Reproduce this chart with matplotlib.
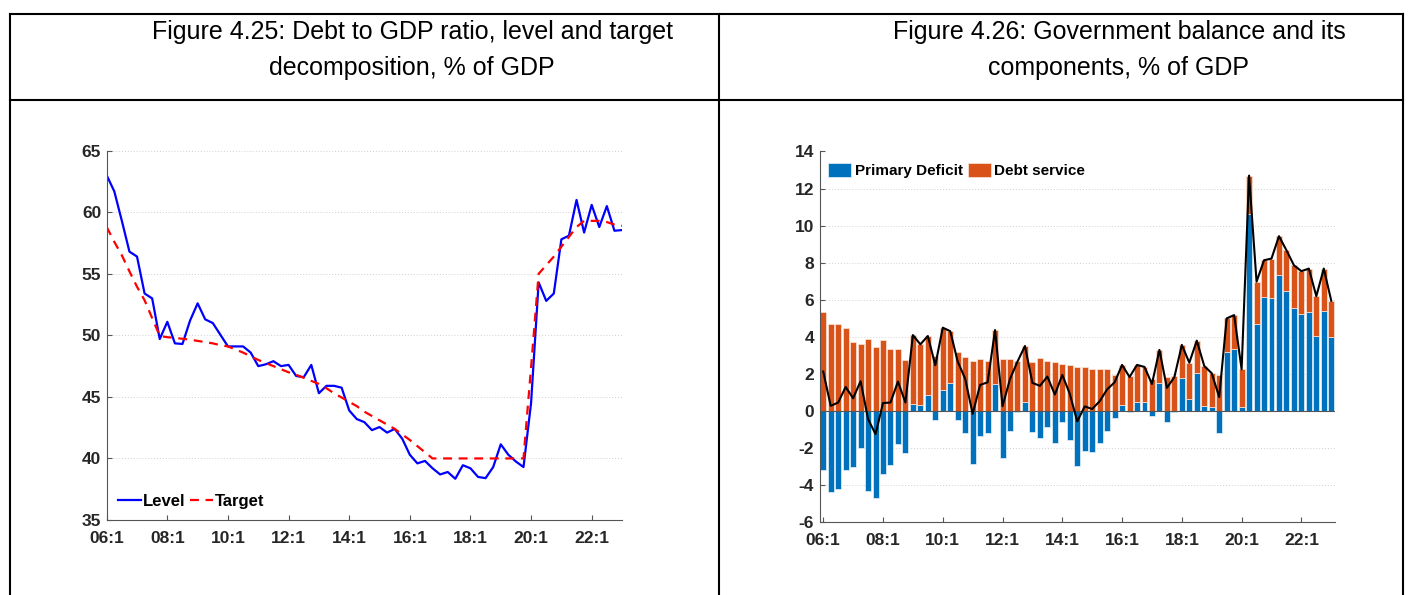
import matplotlib.pyplot as plt
from matplotlib.lines import Line2D

# quarters 2006Q1 .. 2023Q1
quarters = list(range(69))
tick_pos = [0, 8, 16, 24, 32, 40, 48, 56, 64]
tick_labels = ["06:1", "08:1", "10:1", "12:1", "14:1", "16:1", "18:1", "20:1", "22:1"]

# Figure 4.25
level = [63.0, 61.7, 59.3, 56.8, 56.4, 53.4, 53.0, 49.7, 51.1, 49.35,
         49.3, 51.2, 52.6, 51.3, 51.0, 50.05, 49.1, 49.1, 49.1, 48.6,
         47.5, 47.65, 47.9, 47.5, 47.6, 46.7, 46.6, 47.6, 45.3, 45.9,
         45.9, 45.75, 43.9, 43.2, 42.95, 42.3, 42.55, 42.1, 42.4, 41.6,
         40.3, 39.6, 39.8, 39.2, 38.7, 38.9, 38.35, 39.45, 39.2, 38.5,
         38.4, 39.3, 41.15, 40.3, 39.75, 39.3, 44.5, 54.3, 52.8, 53.4,
         57.8, 58.1, 61.0, 58.35, 60.6, 58.8, 60.5, 58.5, 58.55]
target = [58.8, 57.6, 56.5, 55.2, 53.95, 52.85, 51.4, 49.95, 49.85, 49.8,
          49.72, 49.65, 49.55, 49.45, 49.35, 49.2, 49.1, 48.85, 48.6, 48.3,
          48.0, 47.75, 47.5, 47.25, 47.0, 46.8, 46.55, 46.3, 46.05, 45.7,
          45.3, 44.95, 44.6, 44.25, 43.8, 43.45, 43.1, 42.75, 42.4, 41.95,
          41.5, 41.0, 40.5, 40.0, 40.0, 40.0, 40.0, 40.0, 40.0, 40.0,
          40.0, 40.0, 40.0, 40.0, 40.0, 40.0, 47.4, 55.0, 55.7, 56.4,
          57.2, 58.0, 58.8, 59.3, 59.3, 59.3, 59.2, 59.0, 58.9]

# Figure 4.26
primary_deficit = [-3.18, -4.40, -4.22, -3.18, -3.05, -2.03, -4.34, -4.72, -3.39, -2.91,
                   -1.78, -2.28, 0.39, 0.32, 0.84, -0.50, 1.13, 1.51, -0.52, -1.20,
                   -2.85, -1.38, -1.17, 1.47, -2.55, -1.08, -0.05, 0.48, -1.13, -1.49,
                   -0.86, -1.76, -0.61, -1.56, -2.96, -2.15, -2.23, -1.76, -1.08, -0.41,
                   0.29, -0.07, 0.48, 0.48, -0.30, 1.49, -0.61, -0.07, 1.76, 0.63,
                   2.03, 0.25, 0.20, -1.20, 3.16, 3.34, 0.20, 10.65, 4.69, 6.16,
                   6.07, 7.33, 6.46, 5.57, 5.21, 5.35, 4.04, 5.39, 3.97]
debt_service = [5.31, 4.67, 4.67, 4.47, 3.73, 3.63, 3.90, 3.46, 3.81, 3.36,
                3.36, 2.73, 3.70, 3.27, 3.20, 2.96, 3.36, 2.79, 3.18, 2.93,
                2.69, 2.78, 2.71, 2.89, 2.80, 2.80, 2.71, 3.02, 2.64, 2.84,
                2.71, 2.64, 2.55, 2.48, 2.39, 2.39, 2.28, 2.28, 2.24, 1.95,
                2.19, 1.90, 2.00, 1.89, 1.71, 1.80, 1.85, 1.89, 1.80, 1.97,
                1.76, 2.17, 1.83, 1.94, 1.83, 1.83, 2.04, 2.05, 2.28, 1.97,
                2.15, 2.10, 2.21, 2.29, 2.33, 2.33, 2.15, 2.29, 1.97]
balance = [2.12, 0.27, 0.45, 1.29, 0.68, 1.60, -0.44, -1.26, 0.42, 0.45,
           1.58, 0.45, 4.09, 3.59, 4.04, 2.46, 4.49, 4.30, 2.66, 1.73,
           -0.16, 1.40, 1.54, 4.36, 0.25, 1.72, 2.66, 3.50, 1.51, 1.35,
           1.85, 0.88, 1.94, 0.92, -0.57, 0.24, 0.10, 0.52, 1.16, 1.54,
           2.48, 1.83, 2.48, 2.37, 1.45, 3.29, 1.24, 1.82, 3.56, 2.60,
           3.79, 2.42, 2.03, 0.74, 4.99, 5.17, 2.24, 12.70, 6.97, 8.13,
           8.22, 9.43, 8.67, 7.86, 7.54, 7.68, 6.19, 7.68, 5.94]

W, H = 1413, 595
plt.rcParams['font.family'] = ['Liberation Sans', 'DejaVu Sans']
plt.rcParams['axes.unicode_minus'] = False
fig = plt.figure(figsize=(W / 100, H / 100), dpi=100)


def box(x0, y0, x1, y1):
    # pixel box (y from top) -> figure fraction rect
    return [x0 / W, 1 - y1 / H, (x1 - x0) / W, (y1 - y0) / H]


def hline(y, x0, x1):
    fig.add_artist(Line2D([x0 / W, x1 / W], [1 - y / H, 1 - y / H], color="black", lw=1.5))


def vline(x, y0, y1):
    fig.add_artist(Line2D([x / W, x / W], [1 - y0 / H, 1 - y1 / H], color="black", lw=1.5))


# table borders
hline(14, 10, 1403)
hline(100, 10, 1403)
vline(10, 14, 595)
vline(719, 14, 595)
vline(1403, 14, 595)

title_size = 18
fig.text(412 / W, 1 - 32 / H, "Figure 4.25: Debt to GDP ratio, level and target",
         ha="center", va="center", fontsize=title_size)
fig.text(412 / W, 1 - 68 / H, "decomposition, % of GDP",
         ha="center", va="center", fontsize=title_size)
fig.text(1119 / W, 1 - 32 / H, "Figure 4.26: Government balance and its",
         ha="center", va="center", fontsize=title_size)
fig.text(1119 / W, 1 - 68 / H, "components, % of GDP",
         ha="center", va="center", fontsize=title_size)

tick_color = "#262626"


def style_axes(ax):
    for s in ["top", "right"]:
        ax.spines[s].set_visible(False)
    for s in ["left", "bottom"]:
        ax.spines[s].set_color("#555555")
        ax.spines[s].set_linewidth(0.8)
    ax.tick_params(direction="in", length=3.5, width=0.8, colors="#555555",
                   labelcolor=tick_color, labelsize=12.5)
    ax.tick_params(axis="x", pad=8)
    ax.tick_params(axis="y", pad=4)
    ax.set_xticks(tick_pos)
    ax.set_xticklabels(tick_labels)
    for lab in ax.get_xticklabels() + ax.get_yticklabels():
        lab.set_fontweight("bold")
    ax.yaxis.grid(True, linestyle=(0, (1, 2)), color="#cfcfcf", lw=0.7)
    ax.set_axisbelow(True)


# left chart
ax1 = fig.add_axes(box(106.7, 150.7, 622, 520))
ax1.plot(quarters, level, color="#0000ff", lw=1.6, label="Level")
ax1.plot(quarters, target, color="#ff0000", lw=1.6, ls=(0, (4, 3)), label="Target")
ax1.set_xlim(0, 68)
ax1.set_ylim(35, 65)
ax1.set_yticks([35, 40, 45, 50, 55, 60, 65])
style_axes(ax1)
ax1.legend(loc="lower left", ncol=2, frameon=False, bbox_to_anchor=(-0.008, -0.01),
           handlelength=1.4, handletextpad=0.12, columnspacing=0.25,
           prop={"weight": "bold", "size": 12})

# right chart
ax2 = fig.add_axes(box(819.5, 151.5, 1335, 522))
pos_pd = [max(v, 0) for v in primary_deficit]
ax2.bar(quarters, primary_deficit, width=0.8, color="#0072bd", edgecolor="#eaf2fa",
        lw=0.5, label="Primary Deficit")
ax2.bar(quarters, debt_service, width=0.8, bottom=pos_pd, color="#d95319",
        edgecolor="#fbe6dc", lw=0.5, label="Debt service")
ax2.axhline(0, color="#555555", lw=0.8)
ax2.plot(quarters, balance, color="black", lw=1.5)
ax2.set_xlim(-0.5, 68.5)
ax2.set_ylim(-6, 14)
ax2.set_yticks(range(-6, 15, 2))
style_axes(ax2)
ax2.legend(loc="upper left", ncol=2, frameon=False, bbox_to_anchor=(-0.005, 1.0),
           handlelength=1.5, handleheight=1.0, handletextpad=0.25, columnspacing=0.3,
           borderaxespad=0.35, prop={"weight": "bold", "size": 11})

fig.savefig("out.png", dpi=100)
